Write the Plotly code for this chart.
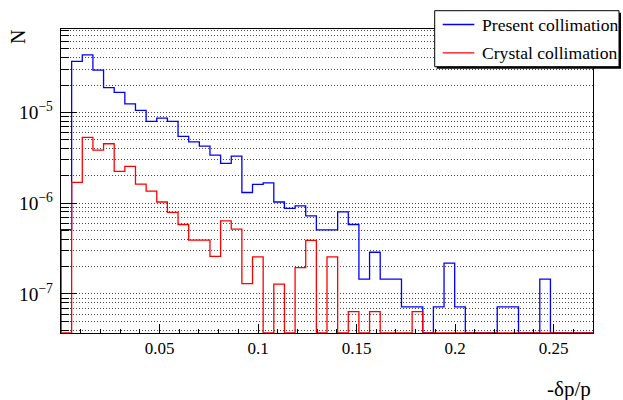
import numpy as np
import plotly.graph_objects as go

# ---------------- data ----------------
n_bins = 50
x_min, x_max = 0.0, 0.27

present = [5.1e-7, 3.65e-5, 4.3e-5, 2.92e-5, 1.87e-5, 1.66e-5, 1.24e-5, 1.05e-5, 7.96e-6, 8.65e-6,
           7.96e-6, 5.43e-6, 4.74e-6, 4.25e-6, 3.38e-6, 2.74e-6, 3.3e-6, 1.31e-6, 1.61e-6, 1.67e-6,
           1.03e-6, 8.75e-7, 9.34e-7, 7.24e-7, 5.08e-7, 5.08e-7, 8.02e-7, 5.82e-7, 1.46e-7, 2.88e-7,
           1.46e-7, 1.46e-7, 7.2e-8, 7.2e-8, 0, 7.2e-8, 2.18e-7, 7.2e-8, 0, 0,
           0, 7.2e-8, 7.2e-8, 0, 0, 1.46e-7, 0, 0, 0, 0]

crystal = [0, 1.69e-6, 5.3e-6, 3.84e-6, 4.51e-6, 2.24e-6, 2.54e-6, 1.62e-6, 1.36e-6, 1.03e-6,
           7.9e-7, 5.82e-7, 3.91e-7, 3.91e-7, 2.6e-7, 6.38e-7, 5.17e-7, 1.30e-7, 2.56e-7, 0,
           1.28e-7, 0, 1.95e-7, 3.9e-7, 0, 2.56e-7, 0, 6.4e-8, 0, 6.4e-8,
           0, 0, 0, 6.4e-8, 0, 0, 0, 0, 0, 0,
           0, 0, 0, 0, 0, 0, 0, 0, 0, 0]

series_names = ["Present collimation", "Crystal collimation"]
series_colors = ["#0000ff", "#ff0000"]

x_tick_vals = [0.05, 0.1, 0.15, 0.2, 0.25]
y_log_range = [-7.43, -4.082]
x_title = "-δp/p"
y_title = "N"

# ---------------- figure ----------------
FONT = "Liberation Serif"
W, H = 623, 400
ML, MR, MT, MB = 61, 30, 29, 67
PW, PH = W - ML - MR, H - MT - MB

edges = np.linspace(x_min, x_max, n_bins + 1)
floor = 10 ** y_log_range[0]


def px(x):
    return (x - ML) / PW


def py(y):
    return (H - MB - y) / PH


def step_xy(vals):
    v = [val if val > 0 else floor for val in vals]
    xs = [edges[0]] + list(edges) + [edges[-1]]
    ys = [floor] + v + [v[-1], floor]
    return xs, ys


fig = go.Figure()
for name, vals, col in zip(series_names, [present, crystal], series_colors):
    xs, ys = step_xy(vals)
    fig.add_trace(go.Scatter(x=xs, y=ys, mode="lines", name=name, showlegend=False,
                             line=dict(color=col, width=1.3, shape="hv")))

GRID = dict(showgrid=True, gridcolor="#444", griddash="1px,2px", gridwidth=1)

fig.update_layout(
    width=W, height=H,
    margin=dict(l=ML, r=MR, t=MT, b=MB, autoexpand=False),
    paper_bgcolor="white", plot_bgcolor="white",
    font=dict(family=FONT, size=17, color="black"),
    showlegend=False,
)

fig.update_xaxes(
    range=[x_min, x_max], tickmode="array", tickvals=x_tick_vals,
    ticks="inside", ticklen=9, tickwidth=1, tickcolor="black",
    minor=dict(dtick=0.01, tick0=0, ticks="inside", ticklen=4, tickcolor="black", showgrid=False),
    showline=True, linecolor="black", linewidth=1, mirror=True,
    showgrid=False, zeroline=False,
    tickfont=dict(family=FONT, size=17, color="black"),
)

fig.update_yaxes(
    type="log", range=y_log_range,
    tickmode="linear", tick0=0, dtick=1, exponentformat="power",
    ticks="inside", ticklen=16, tickwidth=1, tickcolor="black",
    minor=dict(dtick="D1", ticks="inside", ticklen=8, tickcolor="black", **GRID),
    showline=True, linecolor="black", linewidth=1, mirror=True,
    zeroline=False,
    tickfont=dict(family=FONT, size=15.5, color="black"),
    ticklabelstandoff=4,
    **GRID,
)

fig.add_annotation(text=x_title, xref="paper", yref="paper", x=1.0, y=-0.185,
                   xanchor="right", yanchor="middle", showarrow=False,
                   font=dict(family=FONT, size=21, color="black"))
fig.add_annotation(text=y_title, xref="paper", yref="paper", x=px(17.5), y=py(37.5),
                   xanchor="center", yanchor="middle", showarrow=False, textangle=-90,
                   font=dict(family=FONT, size=20, color="black"))

# ---- legend box (ROOT-style, with shadow) ----
bx0, by0, bx1, by1 = 434.7, 10.7, 619.0, 66.7
fig.add_shape(type="rect", xref="paper", yref="paper", layer="above",
              x0=px(bx0 + 2), x1=px(bx1 + 2), y0=py(by1 + 2), y1=py(by0 + 2),
              line=dict(width=0), fillcolor="black")
fig.add_shape(type="rect", xref="paper", yref="paper", layer="above",
              x0=px(bx0), x1=px(bx1), y0=py(by1), y1=py(by0),
              line=dict(width=1, color="black"), fillcolor="white")
for i, (name, col) in enumerate(zip(series_names, series_colors)):
    yc = 24.5 + 28.3 * i
    fig.add_shape(type="line", xref="paper", yref="paper", layer="above",
                  x0=px(442.7), x1=px(474.3), y0=py(yc), y1=py(yc),
                  line=dict(color=col, width=1.3))
    fig.add_annotation(text=name, xref="paper", yref="paper", x=px(480.0), y=py(yc),
                       xanchor="left", yanchor="middle", showarrow=False,
                       font=dict(family=FONT, size=17.6, color="black"))

fig.write_html("out.html")
